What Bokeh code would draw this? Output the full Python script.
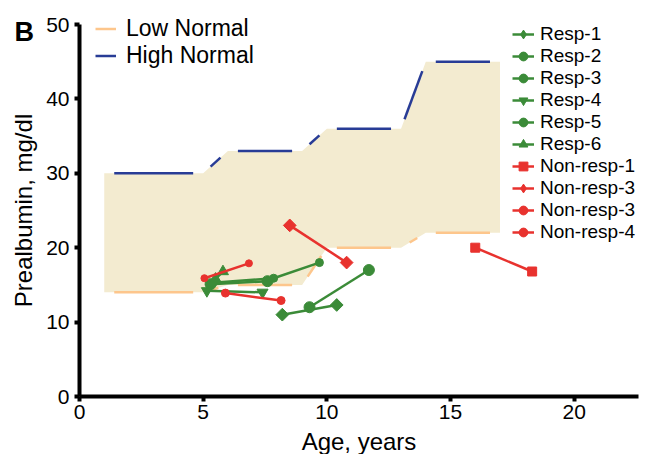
import numpy as np
from bokeh.plotting import figure
from bokeh.models import Range1d, FixedTicker, Legend, LegendItem, Label
from bokeh.embed import file_html
from bokeh.resources import INLINE

# ---- data ----
norm_age = [1, 5, 6, 9, 10, 13, 14, 17]
low_normal = [14, 14, 15, 15, 20, 20, 22, 22]
high_normal = [30, 30, 33, 33, 36, 36, 45, 45]

resp1_age = [8.2, 10.4]
resp1_val = [11.0, 12.3]
resp2_age = [9.3, 11.7]
resp2_val = [12.0, 17.0]
resp3_age = [5.3, 7.6]
resp3_val = [15.1, 15.5]
resp4_age = [5.15, 7.4]
resp4_val = [14.2, 14.0]
resp5_age = [5.4, 7.85, 9.7]
resp5_val = [15.3, 15.9, 18.0]
resp6_age = [5.5, 5.8]
resp6_val = [15.8, 16.8]
nonresp1_age = [16.0, 18.3]
nonresp1_val = [20.0, 16.8]
nonresp3a_age = [8.5, 10.8]
nonresp3a_val = [23.0, 18.0]
nonresp3b_age = [5.9, 8.15]
nonresp3b_val = [13.9, 12.9]
nonresp4_age = [5.05, 6.85]
nonresp4_val = [15.9, 17.9]

x_ticks = [0, 5, 10, 15, 20]
y_ticks = [0, 10, 20, 30, 40, 50]

FONT = "Liberation Sans"
GREEN = "#3B8B38"
RED = "#E8322E"

X_MAX, Y_MAX = 22.6, 50
W, H = 642, 454
# plot-area geometry (pixels) of the axes inside the canvas
AX_L, AX_R, AX_T, AX_B = 79, 638, 24, 396
kx = (AX_R - AX_L) / X_MAX
ky = (AX_B - AX_T) / Y_MAX
x_start = -AX_L / kx
x_end = x_start + W / kx
y_end = Y_MAX + AX_T / ky
y_start = -(H - AX_B) / ky

p = figure(width=W, height=H, output_backend="svg", toolbar_location=None,
           x_range=Range1d(x_start, x_end), y_range=Range1d(y_start, y_end),
           min_border=0, min_border_left=0, min_border_right=0,
           min_border_top=0, min_border_bottom=0)
p.outline_line_color = None
p.xgrid.visible = False
p.ygrid.visible = False
p.background_fill_color = "white"

# normal band
p.varea(x=norm_age, y1=low_normal, y2=high_normal, fill_color="#F3EBD0", fill_alpha=1.0)


def gapped(xs, ys, gap=10.0):
    x0, y0, x1, y1 = [], [], [], []
    for i in range(len(xs) - 1):
        dx = (xs[i + 1] - xs[i]) * kx
        dy = (ys[i + 1] - ys[i]) * ky
        L = np.hypot(dx, dy)
        if L <= 2 * gap:
            continue
        f = gap / L
        x0.append(xs[i] + (xs[i + 1] - xs[i]) * f)
        y0.append(ys[i] + (ys[i + 1] - ys[i]) * f)
        x1.append(xs[i + 1] - (xs[i + 1] - xs[i]) * f)
        y1.append(ys[i + 1] - (ys[i + 1] - ys[i]) * f)
    return x0, y0, x1, y1


lx0, ly0, lx1, ly1 = gapped(norm_age, low_normal)
hx0, hy0, hx1, hy1 = gapped(norm_age, high_normal)
low_r = p.segment(lx0, ly0, lx1, ly1, line_color="#FDC68C", line_width=2.5)
high_r = p.segment(hx0, hy0, hx1, hy1, line_color="#283C96", line_width=2.5)

# (label, x, y, marker, colour, size, rotated-square?)
series = [
    ("Resp-1", resp1_age, resp1_val, "square", GREEN, 9, True),
    ("Resp-2", resp2_age, resp2_val, "circle", GREEN, 11, False),
    ("Resp-3", resp3_age, resp3_val, "circle", GREEN, 11, False),
    ("Resp-4", resp4_age, resp4_val, "inverted_triangle", GREEN, 11, False),
    ("Resp-5", resp5_age, resp5_val, "circle", GREEN, 8, False),
    ("Resp-6", resp6_age, resp6_val, "triangle", GREEN, 11, False),
    ("Non-resp-1", nonresp1_age, nonresp1_val, "square", RED, 9, False),
    ("Non-resp-3", nonresp3a_age, nonresp3a_val, "square", RED, 9, True),
    ("Non-resp-3", nonresp3b_age, nonresp3b_val, "circle", RED, 8, False),
    ("Non-resp-4", nonresp4_age, nonresp4_val, "circle", RED, 7, False),
]

items = []
for name, xs, ys, mk, col, sz, rot in series:
    lr = p.line(xs, ys, line_color=col, line_width=2.5)
    sr = p.scatter(xs, ys, marker=mk, size=sz, angle=(np.pi / 4 if rot else 0),
                   fill_color=col, line_color=col)
    if rot:
        # legend-only glyph (the legend does not rotate markers)
        dr = p.scatter(xs, ys, marker="diamond", size=sz, fill_color=col,
                       line_color=col, visible=False)
        items.append(LegendItem(label=name, renderers=[lr, dr]))
    else:
        items.append(LegendItem(label=name, renderers=[lr, sr]))

leg = Legend(items=items, location=(512, H - 243), label_text_font=FONT,
             label_text_font_size="19px", label_text_color="black",
             glyph_width=22, glyph_height=22, label_height=22, spacing=0,
             label_standoff=6, padding=0, margin=0, border_line_color=None,
             background_fill_alpha=0)
p.add_layout(leg, "center")

leg2 = Legend(items=[LegendItem(label="Low Normal", renderers=[low_r]),
                     LegendItem(label="High Normal", renderers=[high_r])],
              location=(95, H - 69), label_text_font=FONT, label_text_font_size="23px",
              label_text_color="black", glyph_width=21, glyph_height=25, label_height=25,
              spacing=0, label_standoff=10, padding=0, margin=0, border_line_color=None,
              background_fill_alpha=0)
p.add_layout(leg2, "center")

p.add_layout(Label(x=14, y=H - 31, x_units="screen", y_units="screen", text="B",
                   text_font=FONT, text_font_size="27px", text_font_style="bold",
                   text_baseline="alphabetic", text_color="black"))

for ax in (p.xaxis[0], p.yaxis[0]):
    ax.fixed_location = 0
    ax.axis_line_width = 4
    ax.axis_line_color = "black"
    ax.major_tick_line_width = 4
    ax.major_tick_line_color = "black"
    ax.major_tick_out = 5
    ax.major_tick_in = 0
    ax.minor_tick_line_color = None
    ax.major_label_text_font = FONT
    ax.major_label_text_font_size = "21px"
    ax.major_label_text_color = "black"
    ax.axis_label_text_font = FONT
    ax.axis_label_text_font_size = "24px"
    ax.axis_label_text_font_style = "normal"
    ax.axis_label_text_color = "black"

p.xaxis.bounds = (0, X_MAX)
p.yaxis.bounds = (0, Y_MAX)
p.xaxis.ticker = FixedTicker(ticks=x_ticks)
p.yaxis.ticker = FixedTicker(ticks=y_ticks)
p.xaxis.axis_label = "Age, years"
p.yaxis.axis_label = "Prealbumin, mg/dl"
p.xaxis.major_label_standoff = 3
p.yaxis.major_label_standoff = 5
p.xaxis.axis_label_standoff = 6
p.yaxis.axis_label_standoff = 6

open("out.html", "w").write(file_html(p, INLINE))
